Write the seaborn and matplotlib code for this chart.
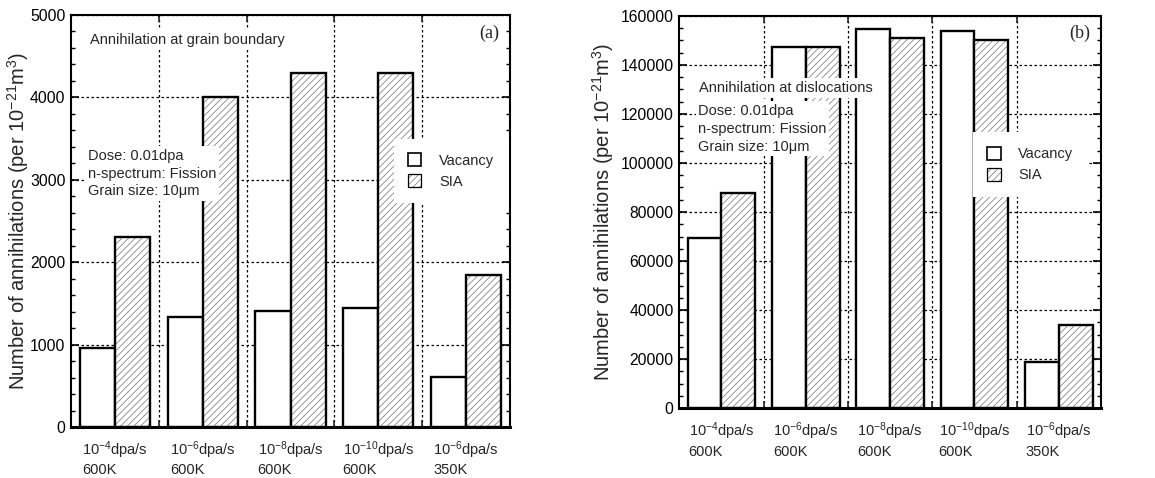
import numpy as np
import pandas as pd
import matplotlib
matplotlib.use('Agg')
import matplotlib.pyplot as plt
import seaborn as sns
from matplotlib.patches import Patch
from matplotlib.ticker import MultipleLocator, FixedLocator

# ---------------- data ----------------
conditions = [r'10$^{-4}$dpa/s' + '\n600K',
              r'10$^{-6}$dpa/s' + '\n600K',
              r'10$^{-8}$dpa/s' + '\n600K',
              r'10$^{-10}$dpa/s' + '\n600K',
              r'10$^{-6}$dpa/s' + '\n350K']
defect_types = ['Vacancy', 'SIA']
gb_vacancy = [960, 1330, 1410, 1450, 610]
gb_sia = [2300, 4010, 4300, 4300, 1850]
disl_vacancy = [69300, 147400, 154500, 153700, 18900]
disl_sia = [87800, 147100, 151000, 150100, 34100]

# ---------------- style ----------------
sns.set_theme(style='ticks')
plt.rcParams['font.family'] = ['Liberation Sans', 'DejaVu Sans']
plt.rcParams['mathtext.fontset'] = 'custom'
plt.rcParams['mathtext.rm'] = 'Liberation Sans'
plt.rcParams['mathtext.it'] = 'Liberation Sans:italic'
plt.rcParams['mathtext.bf'] = 'Liberation Sans:bold'
plt.rcParams['hatch.linewidth'] = 0.5

HATCH = '/////'
HATCH_COLOR = (0.45, 0.45, 0.45, 1.0)
GRID_LS = (0, (2, 2))

W, H = 1155, 478
fig = plt.figure(figsize=(W / 100, H / 100), dpi=100)
ax1 = fig.add_axes([71 / W, 1 - 427 / H, 439 / W, 412 / H])
ax2 = fig.add_axes([679.3 / W, 1 - 408.3 / H, 421.7 / W, 392.6 / H])


def set_hatch_color(p, c):
    if hasattr(p, 'set_hatchcolor'):
        p.set_hatchcolor(c)
    else:
        p._hatch_color = c


def panel(ax, vac, sia, ymax, major, minor, title, title_pos, info_pos,
          letter, leg_anchor, ylabel_x):
    df = pd.DataFrame({
        'Condition': conditions * 2,
        'Type': ['Vacancy'] * len(vac) + ['SIA'] * len(sia),
        'Count': list(vac) + list(sia),
    })
    sns.barplot(data=df, x='Condition', y='Count', hue='Type',
                hue_order=defect_types, palette=['white', 'white'],
                saturation=1, edgecolor='black', linewidth=1.7,
                width=0.8, gap=0, errorbar=None, legend=False, ax=ax)
    for bar in ax.containers[1]:
        bar.set_hatch(HATCH)
        set_hatch_color(bar, HATCH_COLOR)

    ax.set_xlim(-0.5, len(conditions) - 0.5)
    ax.set_ylim(0, ymax)
    ax.yaxis.set_major_locator(MultipleLocator(major))
    ax.yaxis.set_minor_locator(MultipleLocator(minor))
    ax.xaxis.set_minor_locator(FixedLocator(np.arange(0.5, len(conditions) - 0.5, 1)))

    ax.grid(axis='y', which='major', color='black', linestyle=GRID_LS, linewidth=0.9)
    ax.grid(axis='x', which='minor', color='black', linestyle=GRID_LS, linewidth=0.9)
    ax.set_axisbelow(True)

    ax.tick_params(axis='y', which='both', direction='in', left=True, right=True,
                   labelsize=11.3, colors='black', pad=4)
    ax.tick_params(axis='y', which='major', length=6, width=1.2)
    ax.tick_params(axis='y', which='minor', length=3, width=1.0)
    ax.tick_params(axis='x', which='major', length=0, labelsize=10.5, pad=9)
    ax.tick_params(axis='x', which='minor', direction='in', length=5, width=1.2,
                   bottom=True, top=True)
    for lab in ax.get_xticklabels():
        lab.set_multialignment('left')

    for s in ax.spines.values():
        s.set_visible(True)
        s.set_color('black')
        s.set_linewidth(1.5)
    ax.spines['bottom'].set_linewidth(2.2)

    ax.set_xlabel('')
    ax.set_ylabel(r'Number of annihilations (per 10$^{-21}$m$^{3}$)', fontsize=14.5)
    ax.yaxis.set_label_coords(ylabel_x, 0.5)

    box = dict(facecolor='white', edgecolor='none', pad=2)
    ax.text(title_pos[0], title_pos[1], title, transform=ax.transAxes,
            fontsize=10.5, va='center', ha='left', bbox=box, zorder=4)
    ax.text(info_pos[0], info_pos[1],
            'Dose: 0.01dpa\nn-spectrum: Fission\nGrain size: 10\u03bcm',
            transform=ax.transAxes, fontsize=10.5, va='center', ha='left',
            linespacing=1.35, bbox=box, zorder=4)
    ax.text(0.975, 0.955, letter, transform=ax.transAxes, fontsize=13,
            family='Liberation Serif', ha='right', va='center', zorder=4)

    handles = [Patch(facecolor='white', edgecolor='black', linewidth=1.2, label='Vacancy'),
               Patch(facecolor='white', edgecolor='black', linewidth=0.9,
                     hatch=HATCH, label='SIA')]
    set_hatch_color(handles[1], HATCH_COLOR)
    leg = ax.legend(handles=handles, loc='upper left', bbox_to_anchor=leg_anchor,
                    borderaxespad=0, frameon=True, fancybox=False,
                    facecolor='white', edgecolor='none', framealpha=1,
                    fontsize=10.5, handlelength=0.9, handleheight=1.0,
                    handletextpad=1.2, labelspacing=0.45, borderpad=1.0)
    for p in leg.get_patches():
        if p.get_hatch():
            set_hatch_color(p, HATCH_COLOR)
    leg.set_zorder(5)


panel(ax1, gb_vacancy, gb_sia, 5000, 1000, 200,
      'Annihilation at grain boundary', (0.043, 0.939), (0.038, 0.615),
      '(a)', (0.735, 0.700), -0.092)
panel(ax2, disl_vacancy, disl_sia, 160000, 20000, 5000,
      'Annihilation at dislocations', (0.047, 0.816), (0.045, 0.712),
      '(b)', (0.696, 0.703), -0.150)

fig.savefig('out.png', dpi=100)
